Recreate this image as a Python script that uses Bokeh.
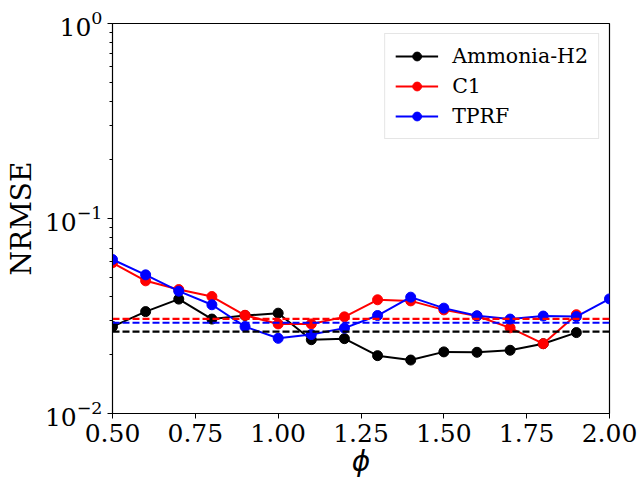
from bokeh.plotting import figure
from bokeh.models import Range1d, FixedTicker, NumeralTickFormatter, Legend, LegendItem, LogTickFormatter
from bokeh.embed import file_html
from bokeh.resources import INLINE

phi = [0.5, 0.6, 0.7, 0.8, 0.9, 1.0, 1.1, 1.2, 1.3, 1.4, 1.5, 1.6, 1.7, 1.8, 1.9, 2.0]
ammonia = [0.0279, 0.0333, 0.0386, 0.0305, 0.0318, 0.0327, 0.0239, 0.0242,
           0.0198, 0.0188, 0.0207, 0.0206, 0.0211, 0.0228, 0.0260]
c1 = [0.0593, 0.0479, 0.0432, 0.0398, 0.0319, 0.0288, 0.0288, 0.0313,
      0.0383, 0.0378, 0.0340, 0.0316, 0.0275, 0.0228, 0.0321]
tprf = [0.0616, 0.0514, 0.0424, 0.0361, 0.0279, 0.0243, 0.0254, 0.0274,
        0.0318, 0.0395, 0.0347, 0.0317, 0.0305, 0.0316, 0.0314, 0.0387]
means = {"Ammonia-H2": 0.0263, "C1": 0.0306, "TPRF": 0.0292}
x_ticks = [0.5, 0.75, 1.0, 1.25, 1.5, 1.75, 2.0]
y_ticks = [0.01, 0.1, 1.0]
y_minor = [0.02, 0.03, 0.04, 0.05, 0.06, 0.07, 0.08, 0.09,
           0.2, 0.3, 0.4, 0.5, 0.6, 0.7, 0.8, 0.9]

FONT = "DejaVu Serif"

p = figure(width=639, height=482, output_backend="svg", toolbar_location=None,
           y_axis_type="log", x_range=Range1d(0.5, 2.0), y_range=Range1d(0.01, 1.0),
           min_border_left=112, min_border_right=30, min_border_top=23, min_border_bottom=69)
p.xgrid.visible = False
p.ygrid.visible = False
p.outline_line_color = "black"
p.outline_line_alpha = 1
p.outline_line_width = 1.2
p.background_fill_color = "white"
p.border_fill_color = "white"

series = [("Ammonia-H2", ammonia, "black"), ("C1", c1, "red"), ("TPRF", tprf, "blue")]
items = []
for name, vals, col in series:
    xs = phi[:len(vals)]
    l = p.line(xs, vals, line_color=col, line_width=2)
    s = p.scatter(xs, vals, size=10, fill_color=col, line_color=col, marker="circle")
    items.append(LegendItem(label=name, renderers=[l, s]))

for name, vals, col in series:
    m = means[name]
    p.line([phi[0], phi[-1]], [m, m], line_color=col, line_width=2.2, line_dash="7 3")

legend = Legend(items=items, location="top_right")
legend.label_text_font = FONT
legend.label_text_font_size = "20.5px"
legend.label_text_color = "black"
legend.border_line_color = "#cccccc"
legend.border_line_width = 1
legend.background_fill_alpha = 0.8
legend.glyph_width = 43
legend.glyph_height = 22
legend.label_height = 22
legend.spacing = 6
legend.label_standoff = 14
legend.padding = 10
legend.margin = 10
p.add_layout(legend)

for ax in (p.xaxis[0], p.yaxis[0]):
    ax.major_label_text_font = FONT
    ax.major_label_text_font_size = "25px"
    ax.major_label_text_color = "black"
    ax.axis_label_text_font = FONT
    ax.axis_label_text_font_size = "28px"
    ax.axis_label_text_font_style = "normal"
    ax.axis_label_text_color = "black"
    ax.axis_line_color = "black"
    ax.major_tick_line_color = "black"
    ax.minor_tick_line_color = "black"
    ax.major_tick_in = 0
    ax.major_tick_out = 5
    ax.minor_tick_in = 0
    ax.minor_tick_out = 3
    ax.major_label_standoff = 5
    ax.axis_label_standoff = 4

p.xaxis[0].ticker = FixedTicker(ticks=x_ticks, minor_ticks=[])
p.xaxis[0].formatter = NumeralTickFormatter(format="0.00")
p.xaxis[0].axis_label = "ϕ"
p.xaxis[0].axis_label_text_font = "DejaVu Sans"
p.xaxis[0].axis_label_text_font_style = "italic"
p.xaxis[0].axis_label_standoff = 0
p.yaxis[0].ticker = FixedTicker(ticks=y_ticks, minor_ticks=y_minor)
p.yaxis[0].formatter = LogTickFormatter()
p.yaxis[0].axis_label = "NRMSE"

open("out.html", "w").write(file_html(p, INLINE))
